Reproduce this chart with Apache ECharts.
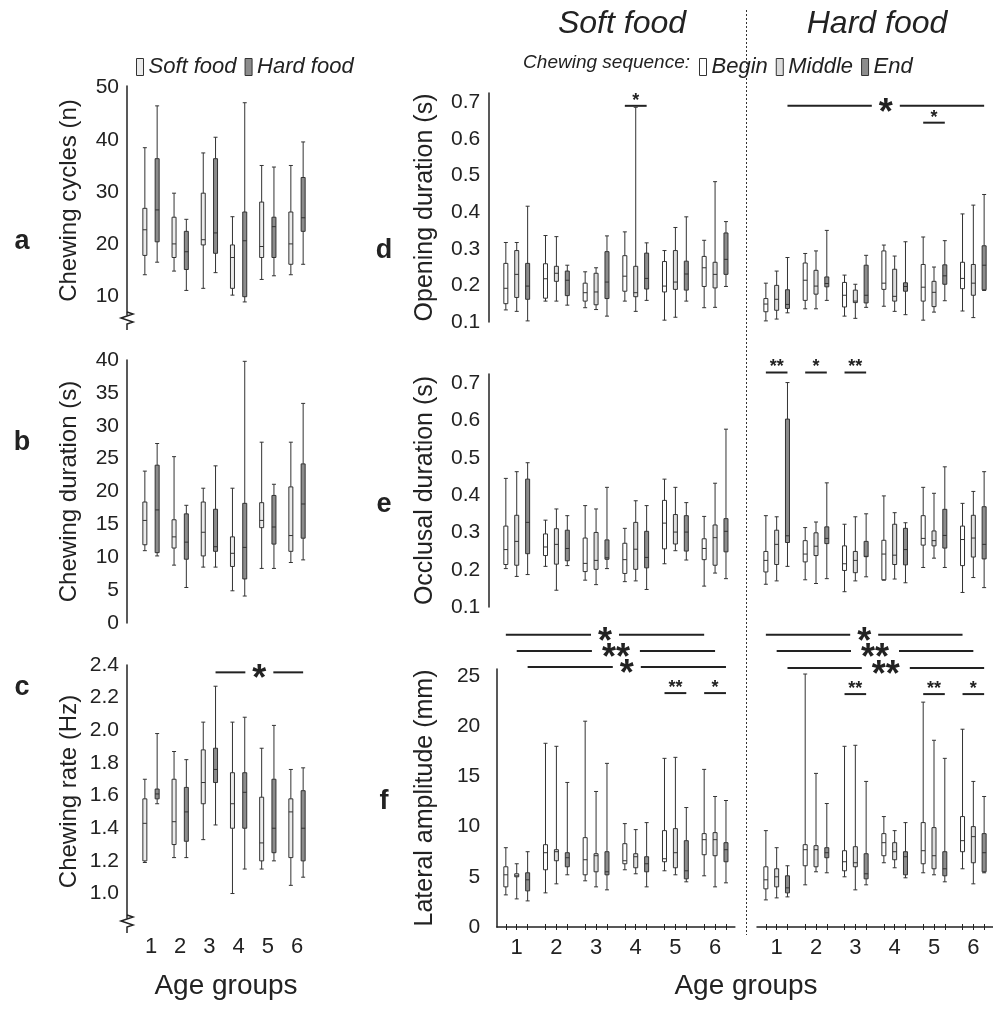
<!DOCTYPE html>
<html><head><meta charset="utf-8">
<script src="https://cdn.jsdelivr.net/npm/echarts@6/dist/echarts.min.js"></script>
<style>html,body{margin:0;padding:0;background:#fff}#c{width:993px;height:1009px}</style>
</head><body><div id="c"></div>
<script>
// ---------- DATA: each box = [low whisker, Q1, median, Q3, high whisker] ----------
const groups = ['1', '2', '3', '4', '5', '6'];

const cyclesTicks = [10, 20, 30, 40, 50];
const durationTicks = [0, 5, 10, 15, 20, 25, 30, 35, 40];
const rateTicks = [1.0, 1.2, 1.4, 1.6, 1.8, 2.0, 2.2, 2.4];
const secTicks = [0.1, 0.2, 0.3, 0.4, 0.5, 0.6, 0.7];
const ampTicks = [0, 5, 10, 15, 20, 25];

const cyclesSoft = [[14.2,17.9,22.8,26.9,38.5],[14.9,17.5,20.1,25.2,29.8],[11.6,19.9,20.9,29.8,37.5],[10.3,11.6,17.5,19.9,25.3],[13.3,17.5,19.6,28.1,35.1],[14.2,16.2,20.1,26.2,35.1]];
const cyclesHard = [[16.6,20.5,26.6,36.4,46.5],[11.2,15.2,18.6,22.5,24.8],[14.6,18.3,22.2,36.4,40.5],[9.0,10.0,20.7,26.2,47.1],[14.0,17.5,23.4,25.2,34.8],[16.2,22.5,25.1,32.8,39.6]];

const durationSoft = [[11.0,11.9,15.6,18.4,23.1],[8.8,11.4,13.1,15.7,25.3],[8.5,10.2,13.8,18.4,20.5],[4.9,8.6,10.6,13.1,20.5],[8.3,14.5,15.6,18.3,27.5],[9.2,10.9,13.3,20.7,27.5]];
const durationHard = [[10.2,10.7,17.2,24.0,27.3],[5.4,9.7,12.3,16.6,17.9],[8.5,10.9,11.6,17.3,23.9],[4.1,6.7,11.5,18.2,39.8],[8.3,12.0,14.6,19.4,21.1],[9.6,12.9,18.1,24.2,33.4]];

const rateSoft = [[1.19,1.20,1.43,1.58,1.70],[1.22,1.30,1.44,1.70,1.87],[1.33,1.55,1.68,1.88,2.05],[1.00,1.40,1.55,1.74,2.05],[1.15,1.20,1.31,1.59,1.89],[1.05,1.22,1.50,1.58,1.76]];
const rateHard = [[1.55,1.58,1.61,1.64,1.98],[1.22,1.32,1.50,1.65,1.82],[1.42,1.68,1.76,1.89,2.27],[1.15,1.40,1.62,1.74,2.08],[1.20,1.25,1.40,1.70,2.03],[1.10,1.20,1.40,1.63,1.77]];

// Opening duration (s)
const openSoftBegin  = [[0.133,0.150,0.192,0.260,0.317],[0.157,0.165,0.218,0.259,0.336],[0.139,0.157,0.180,0.206,0.237],[0.157,0.184,0.225,0.281,0.346],[0.105,0.182,0.198,0.265,0.295],[0.139,0.197,0.248,0.279,0.323]];
const openSoftMiddle = [[0.129,0.167,0.230,0.295,0.317],[0.157,0.211,0.233,0.252,0.333],[0.134,0.147,0.182,0.233,0.248],[0.129,0.169,0.180,0.252,0.686],[0.113,0.189,0.209,0.295,0.358],[0.140,0.193,0.230,0.263,0.483]];
const openSoftEnd    = [[0.103,0.162,0.198,0.260,0.416],[0.146,0.172,0.214,0.239,0.255],[0.116,0.164,0.209,0.292,0.335],[0.159,0.190,0.219,0.288,0.316],[0.157,0.187,0.231,0.266,0.387],[0.197,0.230,0.271,0.343,0.374]];
const openHardBegin  = [[0.103,0.128,0.149,0.164,0.206],[0.136,0.159,0.214,0.261,0.287],[0.116,0.141,0.173,0.208,0.228],[0.143,0.189,0.206,0.294,0.310],[0.105,0.157,0.195,0.257,0.332],[0.130,0.191,0.219,0.263,0.395]];
const openHardMiddle = [[0.108,0.132,0.162,0.200,0.239],[0.136,0.176,0.198,0.241,0.294],[0.110,0.153,0.157,0.187,0.203],[0.129,0.157,0.170,0.244,0.280],[0.127,0.142,0.181,0.211,0.250],[0.112,0.173,0.206,0.257,0.419]];
const openHardEnd    = [[0.125,0.137,0.148,0.188,0.276],[0.159,0.196,0.205,0.223,0.350],[0.140,0.152,0.173,0.255,0.282],[0.120,0.184,0.197,0.207,0.319],[0.158,0.203,0.226,0.256,0.322],[0.186,0.188,0.255,0.308,0.448]];

// Occlusal duration (s)
const occSoftBegin  = [[0.203,0.214,0.254,0.317,0.445],[0.209,0.238,0.261,0.296,0.333],[0.172,0.195,0.217,0.285,0.372],[0.168,0.190,0.227,0.271,0.311],[0.216,0.256,0.325,0.386,0.443],[0.156,0.227,0.257,0.283,0.343]];
const occSoftMiddle = [[0.182,0.212,0.276,0.346,0.463],[0.145,0.215,0.268,0.310,0.363],[0.160,0.201,0.225,0.300,0.363],[0.170,0.201,0.255,0.327,0.385],[0.251,0.269,0.301,0.348,0.421],[0.191,0.212,0.286,0.320,0.432]];
const occSoftEnd    = [[0.187,0.243,0.327,0.443,0.487],[0.211,0.224,0.257,0.306,0.345],[0.203,0.228,0.232,0.280,0.421],[0.147,0.205,0.233,0.303,0.372],[0.226,0.250,0.301,0.345,0.380],[0.176,0.248,0.303,0.337,0.577]];
const occHardBegin  = [[0.161,0.194,0.225,0.249,0.345],[0.173,0.221,0.242,0.278,0.313],[0.141,0.198,0.216,0.264,0.322],[0.172,0.173,0.242,0.279,0.398],[0.206,0.266,0.284,0.345,0.421],[0.139,0.211,0.281,0.317,0.378]];
const occHardMiddle = [[0.170,0.214,0.268,0.306,0.342],[0.163,0.238,0.263,0.299,0.328],[0.170,0.192,0.225,0.249,0.342],[0.175,0.214,0.239,0.322,0.353],[0.231,0.264,0.278,0.304,0.405],[0.179,0.234,0.285,0.346,0.410]];
const occHardEnd    = [[0.209,0.273,0.291,0.604,0.702],[0.176,0.270,0.284,0.315,0.433],[0.181,0.235,0.236,0.276,0.350],[0.165,0.213,0.254,0.311,0.326],[0.206,0.258,0.292,0.362,0.476],[0.152,0.229,0.268,0.369,0.463]];

// Lateral amplitude (mm)
const ampSoftBegin  = [[3.2,4.0,5.2,6.0,7.9],[3.4,5.7,7.4,8.2,18.3],[4.6,5.2,6.7,8.9,20.5],[5.7,6.3,6.6,8.3,10.3],[5.6,6.5,6.8,9.6,16.8],[5.1,7.2,8.7,9.3,15.7]];
const ampSoftMiddle = [[2.8,5.0,5.1,5.3,6.3],[4.3,6.6,7.5,7.7,18.0],[4.0,5.5,7.1,7.3,13.5],[5.3,5.9,7.0,7.3,9.7],[5.2,5.9,7.4,9.8,16.9],[4.0,7.1,8.7,9.4,13.0]];
const ampSoftEnd    = [[2.6,3.6,4.7,5.4,7.5],[5.2,6.0,6.9,7.4,14.4],[3.7,5.2,5.5,7.5,16.3],[4.0,5.5,6.3,7.0,10.4],[4.5,4.8,5.6,8.6,11.9],[4.4,6.5,7.7,8.4,12.6]];
const ampHardBegin  = [[2.7,3.8,4.7,6.0,9.6],[4.2,6.1,7.7,8.2,25.2],[5.0,5.6,6.5,7.6,18.0],[6.4,7.1,8.4,9.3,11.0],[5.4,6.3,7.6,10.4,22.4],[5.8,7.5,8.6,11.0,19.7]];
const ampHardMiddle = [[2.9,4.0,5.0,5.8,7.9],[5.5,6.0,7.7,8.1,15.3],[3.7,6.0,6.4,8.0,18.1],[5.9,6.7,7.5,8.4,9.6],[5.2,5.8,7.1,9.9,18.6],[4.3,6.4,9.0,10.0,14.5]];
const ampHardEnd    = [[3.0,3.4,3.9,5.1,6.1],[5.4,6.9,7.4,7.9,12.3],[4.2,4.8,5.3,7.3,14.5],[4.9,5.2,7.0,7.5,10.4],[4.5,5.1,5.8,7.5,16.8],[5.4,5.5,7.4,9.3,13.0]];

// significance annotations: panel k, from [group, box], to [group, box], value level, label, big?
const sigBars = [
  {k:2, a:[2,1], b:[5,1], v:2.355, t:'*', big:true},
  {k:3, a:[3,0], b:[3,2], v:0.69, t:'*', big:false},
  {k:4, a:[0,2], b:[5,2], v:0.69, t:'*', big:true},
  {k:4, a:[4,0], b:[4,2], v:0.644, t:'*', big:false},
  {k:6, a:[0,0], b:[0,2], v:0.729, t:'**', big:false},
  {k:6, a:[1,0], b:[1,2], v:0.729, t:'*', big:false},
  {k:6, a:[2,0], b:[2,2], v:0.729, t:'**', big:false},
  {k:7, a:[0,0], b:[5,0], v:29.1, t:'*', big:true},
  {k:7, a:[0,1], b:[5,1], v:27.5, t:'**', big:true},
  {k:7, a:[0,2], b:[5,2], v:25.9, t:'*', big:true},
  {k:7, a:[4,0], b:[4,2], v:23.3, t:'**', big:false},
  {k:7, a:[5,0], b:[5,2], v:23.3, t:'*', big:false},
  {k:8, a:[0,0], b:[5,0], v:29.1, t:'*', big:true},
  {k:8, a:[0,1], b:[5,1], v:27.5, t:'**', big:true},
  {k:8, a:[0,2], b:[5,2], v:25.8, t:'**', big:true},
  {k:8, a:[2,0], b:[2,2], v:23.2, t:'**', big:false},
  {k:8, a:[4,0], b:[4,2], v:23.2, t:'**', big:false},
  {k:8, a:[5,0], b:[5,2], v:23.2, t:'*', big:false}
];

// ---------- STYLE / LAYOUT ----------
const FONT = 'Liberation Sans';
const INK = '#222';
const C_SOFT = '#ebebeb', C_HARD = '#8c8c8c';
const C_BEGIN = '#ffffff', C_MIDDLE = '#dcdcdc', C_END = '#8c8c8c';

const grids = [
  {left:136.4, top:86,  width:175.2, height:229},
  {left:136.4, top:360, width:175.2, height:263},
  {left:136.4, top:665, width:175.2, height:253},
  {left:496.9, top:93,  width:238,   height:229},
  {left:757,   top:93,  width:236,   height:229},
  {left:496.9, top:374, width:238,   height:233},
  {left:757,   top:374, width:236,   height:233},
  {left:496.9, top:669, width:238,   height:258},
  {left:757,   top:669, width:236,   height:258}
];

const yDefs = [
  {min:6.5,  max:50.3,  ticks:cyclesTicks,   name:'Chewing cycles (n)',    dec:0, show:true, off:9.4, gap:46, fs:24},
  {min:0,    max:40,    ticks:durationTicks, name:'Chewing duration (s)',  dec:0, show:true, off:9.4, gap:46, fs:24},
  {min:0.85, max:2.4,   ticks:rateTicks,     name:'Chewing rate (Hz)',     dec:1, show:true, off:9.4, gap:46, fs:24},
  {min:0.1,  max:0.725, ticks:secTicks,      name:'Opening duration (s)',  dec:1, show:true, off:8.6, gap:51, fs:25},
  {min:0.1,  max:0.725, ticks:secTicks,      name:'',                      dec:1, show:false},
  {min:0.1,  max:0.725, ticks:secTicks,      name:'Occlusal duration (s)', dec:1, show:true, off:8.6, gap:51, fs:25},
  {min:0.1,  max:0.725, ticks:secTicks,      name:'',                      dec:1, show:false},
  {min:0,    max:25.7,  ticks:ampTicks,      name:'Lateral amplitude (mm)',dec:0, show:true, off:8.6, gap:51, fs:25},
  {min:0,    max:25.7,  ticks:ampTicks,      name:'',                      dec:0, show:false}
];

const xAxes = grids.map((g, k) => {
  const showLabel = (k === 2 || k === 7 || k === 8);
  const showLine = (k === 7 || k === 8);
  return {
    type:'category', gridIndex:k, data:groups, position:'bottom',
    axisLine:{show:showLine, onZero:false, lineStyle:{color:INK, width:1.5}},
    axisTick:{show:false},
    axisLabel:{show:showLabel, fontSize:22, color:INK, fontFamily:FONT, margin: k === 2 ? 18 : 10},
    splitLine:{show:false}
  };
});
// extra decorative tick axes for the "+" ticks under each box in panel f
function boxOffsetFrac(bw, n) {
  const aw = bw * 0.8 - 2, gap = aw / n * 0.3, w = (aw - gap * (n - 1)) / n;
  return (gap + w) / bw;
}
[7, 8].forEach(k => {
  const bw = grids[k].width / groups.length;
  const f = boxOffsetFrac(bw, 3);
  const vals = [];
  groups.forEach((_, g) => { for (let s = -1; s <= 1; s++) vals.push(g + 0.5 + s * f); });
  xAxes.push({
    type:'value', gridIndex:k, min:0, max:groups.length, position:'bottom', offset:-3,
    axisLine:{show:false}, axisLabel:{show:false}, splitLine:{show:false},
    axisTick:{show:true, customValues:vals, length:6, lineStyle:{color:INK, width:1}}
  });
});

const yAxes = yDefs.map((d, k) => ({
  type:'value', gridIndex:k, min:d.min, max:d.max, offset:d.off || 0,
  name:d.name, nameLocation:'middle', nameGap:d.gap || 0,
  nameTextStyle:{fontSize:d.fs || 24, color:INK, fontFamily:FONT},
  axisLine:{show:d.show, lineStyle:{color:INK, width:1.5}},
  axisTick:{show:false},
  axisLabel:{show:d.show, customValues:d.ticks, fontSize:21, color:INK, fontFamily:FONT, margin:8,
             formatter: v => Number(v).toFixed(d.dec)},
  splitLine:{show:false}
}));

function box(name, data, k, color) {
  return {
    type:'boxplot', name, data, xAxisIndex:k, yAxisIndex:k, boxWidth:[4, 4], silent:true,
    itemStyle:{color, borderColor:'#333', borderWidth:1},
    emphasis:{disabled:true}
  };
}

const series = [
  box('Soft food', cyclesSoft, 0, C_SOFT), box('Hard food', cyclesHard, 0, C_HARD),
  box('Soft food', durationSoft, 1, C_SOFT), box('Hard food', durationHard, 1, C_HARD),
  box('Soft food', rateSoft, 2, C_SOFT), box('Hard food', rateHard, 2, C_HARD),
  box('Begin', openSoftBegin, 3, C_BEGIN), box('Middle', openSoftMiddle, 3, C_MIDDLE), box('End', openSoftEnd, 3, C_END),
  box('Begin', openHardBegin, 4, C_BEGIN), box('Middle', openHardMiddle, 4, C_MIDDLE), box('End', openHardEnd, 4, C_END),
  box('Begin', occSoftBegin, 5, C_BEGIN), box('Middle', occSoftMiddle, 5, C_MIDDLE), box('End', occSoftEnd, 5, C_END),
  box('Begin', occHardBegin, 6, C_BEGIN), box('Middle', occHardMiddle, 6, C_MIDDLE), box('End', occHardEnd, 6, C_END),
  box('Begin', ampSoftBegin, 7, C_BEGIN), box('Middle', ampSoftMiddle, 7, C_MIDDLE), box('End', ampSoftEnd, 7, C_END),
  box('Begin', ampHardBegin, 8, C_BEGIN), box('Middle', ampHardMiddle, 8, C_MIDDLE), box('End', ampHardEnd, 8, C_END)
];

const legendText = {fontSize:22, fontStyle:'italic', color:INK, fontFamily:FONT};
const legItem = (name, color) => ({name, icon:'rect', itemStyle:{color, borderColor:'#333', borderWidth:1}});
const chart = echarts.init(document.getElementById('c'), null, {renderer:'canvas'});
chart.setOption({
  animation:false,
  backgroundColor:'#fff',
  textStyle:{fontFamily:FONT},
  grid:grids,
  xAxis:xAxes,
  yAxis:yAxes,
  legend:[
    {data:[legItem('Soft food', C_SOFT), legItem('Hard food', C_HARD)], left:131, top:51, itemWidth:7, itemHeight:17, itemGap:8,
     selectedMode:false, textStyle:legendText},
    {data:[legItem('Begin', C_BEGIN), legItem('Middle', C_MIDDLE), legItem('End', C_END)], left:694, top:51, itemWidth:7, itemHeight:17, itemGap:8,
     selectedMode:false, textStyle:legendText}
  ],
  series
});

// ---------- annotations & decorations ----------
const els = [];
function txt(x, y, text, size, opts) {
  els.push({type:'text', x, y, silent:true, style:Object.assign({text, fontSize:size, fontFamily:FONT, fill:INK,
    align:'center', verticalAlign:'middle'}, opts || {})});
}
function ln(x1, y1, x2, y2, w) {
  els.push({type:'line', silent:true, shape:{x1, y1, x2, y2}, style:{stroke:INK, lineWidth:w || 2}});
}
function boxPx(k, g, s, n) {
  const p0 = chart.convertToPixel({xAxisIndex:k, yAxisIndex:k}, [0, 0]);
  const p1 = chart.convertToPixel({xAxisIndex:k, yAxisIndex:k}, [1, 0]);
  const bw = p1[0] - p0[0];
  const pg = chart.convertToPixel({xAxisIndex:k, yAxisIndex:k}, [g, 0]);
  return pg[0] + (s - (n - 1) / 2) * boxOffsetFrac(bw, n) * bw;
}
sigBars.forEach(b => {
  const n = b.k < 3 ? 2 : 3;
  const x1 = boxPx(b.k, b.a[0], b.a[1], n), x2 = boxPx(b.k, b.b[0], b.b[1], n);
  const y = chart.convertToPixel({xAxisIndex:b.k, yAxisIndex:b.k}, [0, b.v])[1];
  const cx = (x1 + x2) / 2;
  if (b.big) {
    const half = b.t.length === 1 ? 14 : 24;
    ln(x1, y, cx - half, y, 2); ln(cx + half, y, x2, y, 2);
    txt(cx, y + 8, b.t, 36, {fontWeight:'bold'});
  } else {
    ln(x1, y, x2, y, 2);
    txt(cx, y - 5, b.t, 18, {fontWeight:'bold'});
  }
});

// axis break marks on panels a and c
[0, 2].forEach(k => {
  const ax = grids[k].left - yDefs[k].off;
  const yb = grids[k].top + grids[k].height - 3;
  els.push({type:'polyline', silent:true, shape:{points:[[ax, yb], [ax + 6, yb + 2], [ax - 6, yb + 6], [ax + 6, yb + 10], [ax, yb + 12], [ax, yb + 18]]},
    style:{stroke:INK, lineWidth:1.5, fill:null}});
});

// titles, separators, labels
txt(622, 24, 'Soft food', 32, {fontStyle:'italic'});
txt(877, 24, 'Hard food', 32, {fontStyle:'italic'});
txt(690, 63, 'Chewing sequence:', 19, {fontStyle:'italic', align:'right'});
els.push({type:'line', silent:true, shape:{x1:746.5, y1:10, x2:746.5, y2:935}, style:{stroke:'#333', lineWidth:1, lineDash:[2, 2]}});
[['a', 22, 242], ['b', 22, 443], ['c', 22, 688], ['d', 384, 251], ['e', 384, 505], ['f', 384, 802]].forEach(p =>
  txt(p[1], p[2], p[0], 27, {fontWeight:'bold'}));
txt(226, 986, 'Age groups', 28);
txt(746, 986, 'Age groups', 28);

chart.setOption({graphic:{elements:els}});
</script></body></html>
